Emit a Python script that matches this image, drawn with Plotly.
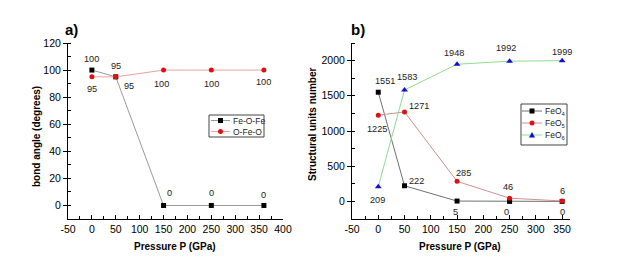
import plotly.graph_objects as go

# ---- data ----
pressure_a = [0, 50, 150, 250, 360]
fe_o_fe = [100, 95, 0, 0, 0]
o_fe_o = [95, 95, 100, 100, 100]

pressure_b = [0, 50, 150, 250, 350]
feo4 = [1551, 222, 5, 0, 0]
feo5 = [1225, 1271, 285, 46, 6]
feo6 = [209, 1583, 1948, 1992, 1999]

x_ticks_a = [-50, 0, 50, 100, 150, 200, 250, 300, 350, 400]
y_ticks_a = [0, 20, 40, 60, 80, 100, 120]
x_ticks_b = [-50, 0, 50, 100, 150, 200, 250, 300, 350]
y_ticks_b = [0, 500, 1000, 1500, 2000]

names_a = ["Fe-O-Fe", "O-Fe-O"]
names_b = ["FeO<sub>4</sub>", "FeO<sub>5</sub>", "FeO<sub>6</sub>"]

# label offsets (style) in pixels: (xshift, yshift)
off_fe_o_fe = [(0, 11), (0, 11), (6, 12), (0, 12), (0, 10)]
off_o_fe_o = [(0, -12), (13, -9), (-2, -14), (0, -14), (0, -12)]
off_feo4 = [(7, 11), (12, 5), (-2, -11), (-3, -11), (0, -11)]
off_feo5 = [(-1, -14), (14, 6), (6, 8), (-2, 11), (0, 10)]
off_feo6 = [(-1, -13), (2, 13), (-3, 11), (-4, 13), (0, 9)]

FONT = "Liberation Sans, Arial, sans-serif"
W, H = 618, 261

def px_x(p):
    return p / W

def px_y(p):
    return 1 - p / H

dom_y = [px_y(219), px_y(43)]

styles_a = [
    dict(line=dict(color="#9a9a9a", width=1), marker=dict(symbol="square", size=5, color="black")),
    dict(line=dict(color="#eea0a0", width=1), marker=dict(symbol="circle", size=5, color="#e01010")),
]
styles_b = [
    dict(line=dict(color="#707070", width=1), marker=dict(symbol="square", size=5, color="black")),
    dict(line=dict(color="#d09090", width=1), marker=dict(symbol="circle", size=5, color="#e01010")),
    dict(line=dict(color="#90dd90", width=1), marker=dict(symbol="triangle-up", size=6, color="#1010d0")),
]

fig = go.Figure()
for name, ys, st in zip(names_a, [fe_o_fe, o_fe_o], styles_a):
    fig.add_trace(go.Scatter(x=pressure_a, y=ys, name=name, mode="lines+markers",
                             xaxis="x", yaxis="y", showlegend=False, **st))
for name, ys, st in zip(names_b, [feo4, feo5, feo6], styles_b):
    fig.add_trace(go.Scatter(x=pressure_b, y=ys, name=name, mode="lines+markers",
                             xaxis="x2", yaxis="y2", showlegend=False, **st))

annotations = []
shapes = []

def add_labels(xs, ys, offs, xref, yref):
    for xv, yv, (dx, dy) in zip(xs, ys, offs):
        annotations.append(dict(x=xv, y=yv, xref=xref, yref=yref, text=str(yv),
                                showarrow=False, xshift=dx, yshift=dy,
                                xanchor="center", yanchor="middle",
                                font=dict(family=FONT, size=9.2, color="#222")))

add_labels(pressure_a, fe_o_fe, off_fe_o_fe, "x", "y")
add_labels(pressure_a, o_fe_o, off_o_fe_o, "x", "y")
add_labels(pressure_b, feo4, off_feo4, "x2", "y2")
add_labels(pressure_b, feo5, off_feo5, "x2", "y2")
add_labels(pressure_b, feo6, off_feo6, "x2", "y2")

def paper_text(x, y, text, size, angle=0):
    annotations.append(dict(x=px_x(x), y=px_y(y), xref="paper", yref="paper", text=text,
                            showarrow=False, textangle=angle, xanchor="center", yanchor="middle",
                            font=dict(family=FONT, size=size, color="black")))

paper_text(71, 30, "<b>a)</b>", 15)
paper_text(358, 30, "<b>b)</b>", 15)
paper_text(175, 246, "<b>Pressure P (GPa)</b>", 10)
paper_text(460, 246, "<b>Pressure P (GPa)</b>", 10)
paper_text(36, 137, "<b>bond angle (degrees)</b>", 10, -90)
paper_text(312, 125, "<b>Structural units number</b>", 10, -90)

# ---- hand-drawn legends (paper pixel coords) ----
def legend_box(x0, y0, x1, y1, entries, lx0, lx1, tx, ys, styles):
    shapes.append(dict(type="rect", xref="paper", yref="paper",
                       x0=px_x(x0), x1=px_x(x1), y0=px_y(y0), y1=px_y(y1),
                       line=dict(color="#444", width=1), fillcolor="white", layer="above"))
    for name, yy, st in zip(entries, ys, styles):
        shapes.append(dict(type="line", xref="paper", yref="paper",
                           x0=px_x(lx0), x1=px_x(lx1), y0=px_y(yy), y1=px_y(yy),
                           line=dict(color=st["line"]["color"], width=1), layer="above"))
        mx = (lx0 + lx1) / 2
        sym = st["marker"]["symbol"]
        col = st["marker"]["color"]
        if sym == "square":
            shapes.append(dict(type="rect", xref="paper", yref="paper",
                               x0=px_x(mx - 2.5), x1=px_x(mx + 2.5), y0=px_y(yy + 2.5), y1=px_y(yy - 2.5),
                               line=dict(width=0), fillcolor=col, layer="above"))
        elif sym == "circle":
            shapes.append(dict(type="circle", xref="paper", yref="paper",
                               x0=px_x(mx - 2.5), x1=px_x(mx + 2.5), y0=px_y(yy + 2.5), y1=px_y(yy - 2.5),
                               line=dict(width=0), fillcolor=col, layer="above"))
        else:
            path = "M {} {} L {} {} L {} {} Z".format(px_x(mx - 3), px_y(yy + 2.5), px_x(mx + 3), px_y(yy + 2.5),
                                                     px_x(mx), px_y(yy - 3))
            shapes.append(dict(type="path", xref="paper", yref="paper", path=path,
                               line=dict(width=0), fillcolor=col, layer="above"))
        annotations.append(dict(x=px_x(tx), y=px_y(yy), xref="paper", yref="paper", text=name,
                                xanchor="left", yanchor="middle", showarrow=False,
                                font=dict(family=FONT, size=8.5, color="#222")))

legend_box(209, 115, 264, 137, names_a, 211, 230, 231, [120.5, 131.5], styles_a)
legend_box(521, 104, 567, 145, names_b, 522, 542, 543, [111, 123, 135], styles_b)

axis_common = dict(showgrid=False, zeroline=False, showline=True, linecolor="black", linewidth=1,
                   tickfont=dict(family=FONT, size=10.5, color="black"), tickcolor="black",
                   ticklen=4, tickwidth=1, automargin=False)

def tick_text(vals):
    return [str(v) for v in vals]

fig.update_layout(
    width=W, height=H, margin=dict(l=0, r=0, t=0, b=0),
    paper_bgcolor="white", plot_bgcolor="white",
    font=dict(family=FONT, color="black"),
    annotations=annotations, shapes=shapes, showlegend=False,
    xaxis=dict(domain=[px_x(68), px_x(283)], range=[-50, 400], tickvals=x_ticks_a,
               ticktext=tick_text(x_ticks_a), ticks="inside",
               minor=dict(dtick=25, ticks="inside", ticklen=3, tickcolor="black"),
               anchor="y", **axis_common),
    yaxis=dict(domain=dom_y, range=[-10, 120], tickvals=y_ticks_a, ticktext=tick_text(y_ticks_a),
               ticks="outside",
               minor=dict(dtick=10, ticks="inside", ticklen=3, tickcolor="black"),
               anchor="x", **axis_common),
    xaxis2=dict(domain=[px_x(352), px_x(570)], range=[-50, 365], tickvals=x_ticks_b,
                ticktext=tick_text(x_ticks_b), ticks="inside",
                minor=dict(dtick=25, ticks="inside", ticklen=3, tickcolor="black"),
                anchor="y2", **axis_common),
    yaxis2=dict(domain=dom_y, range=[-250, 2250], tickvals=y_ticks_b, ticktext=tick_text(y_ticks_b),
                ticks="outside",
                minor=dict(dtick=250, ticks="inside", ticklen=3, tickcolor="black"),
                anchor="x2", **axis_common),
)

fig.write_html("out.html", config={"displayModeBar": False},
               post_script="document.body.style.margin='0';document.body.style.padding='0';")
